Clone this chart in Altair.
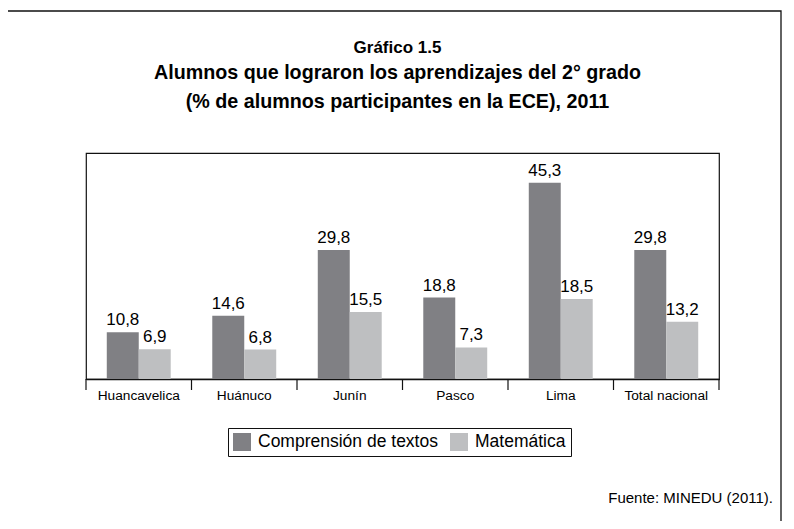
import altair as alt
import pandas as pd

categories = ["Huancavelica", "Huánuco", "Junín", "Pasco", "Lima", "Total nacional"]
series = ["Comprensión de textos", "Matemática"]
comprension = [10.8, 14.6, 29.8, 18.8, 45.3, 29.8]
matematica = [6.9, 6.8, 15.5, 7.3, 18.5, 13.2]
colors = ["#808084", "#bebfc1"]

rows = []
for i, c in enumerate(categories):
    for s, vals in zip(series, [comprension, matematica]):
        v = vals[i]
        rows.append({"region": c, "serie": s, "valor": v,
                     "etiqueta": f"{v:.1f}".replace(".", ",")})
df = pd.DataFrame(rows)

FONT = "Liberation Sans"
W, H = 633, 226

x_enc = alt.X("region:N", sort=categories,
              scale=alt.Scale(paddingInner=0, paddingOuter=0),
              axis=alt.Axis(title=None, labelAngle=0, ticks=False, tickSize=0,
                            labelPadding=9, labelFontSize=13.7, labelColor="black",
                            labelFont=FONT, domainColor="#111111", domainWidth=1.3))
xoff = alt.XOffset("serie:N", sort=series,
                   scale=alt.Scale(paddingInner=0, paddingOuter=0.65))
y_enc = alt.Y("valor:Q", scale=alt.Scale(domain=[0, 52.2], nice=False), axis=None)

bars = alt.Chart(df).mark_bar().encode(
    x=x_enc, xOffset=xoff, y=y_enc,
    color=alt.Color("serie:N", sort=series,
                    scale=alt.Scale(domain=series, range=colors),
                    legend=alt.Legend(orient="none", legendX=142, legendY=275,
                                      direction="horizontal", title=None,
                                      symbolType="square", symbolSize=324,
                                      symbolStrokeWidth=0, labelFontSize=17.5,
                                      labelFont=FONT, labelColor="black",
                                      labelLimit=400,
                                      strokeColor="#111111", fillColor="white",
                                      padding=5, columnPadding=12, labelOffset=7)),
)

labels = alt.Chart(df).mark_text(baseline="bottom", dy=-3, fontSize=17, font=FONT,
                                 color="black").encode(
    x=alt.X("region:N", sort=categories), xOffset=xoff, y=y_enc,
    text="etiqueta:N",
)

sep_df = pd.DataFrame({"region": categories})
seps = alt.Chart(sep_df).mark_rule(color="#111111", strokeWidth=1.2).encode(
    x=alt.X("region:N", sort=categories, bandPosition=0),
    y=alt.value(H), y2=alt.value(H + 11),
)
one = pd.DataFrame({"k": [0]})
sep_end = alt.Chart(one).mark_rule(color="#111111", strokeWidth=1.2).encode(
    x=alt.value(W), y=alt.value(H), y2=alt.value(H + 11),
)

border = alt.Chart(one).mark_rect(fill=None, stroke="#111111", strokeWidth=1.3).encode(
    x=alt.value(-79), x2=alt.value(695), y=alt.value(-142), y2=alt.value(420),
)

fuente = alt.Chart(one).mark_text(align="right", baseline="middle", fontSize=15,
                                  font=FONT, color="black").encode(
    x=alt.value(687), y=alt.value(345), text=alt.value("Fuente: MINEDU (2011).")
)

chart = alt.layer(border, bars, labels, seps, sep_end, fuente).properties(
    width=W, height=H,
    autosize=alt.AutoSizeParams(type="none"),
    padding={"left": 78, "top": 145, "right": 67, "bottom": 142},
    title=alt.TitleParams(
        text="Gráfico 1.5",
        subtitle=["Alumnos que lograron los aprendizajes del 2° grado",
                  "(% de alumnos participantes en la ECE), 2011"],
        fontSize=17, fontWeight="bold", font=FONT, color="black",
        subtitleFontSize=19.7, subtitleFontWeight="bold", subtitleFont=FONT,
        subtitleColor="black", subtitleLineHeight=29, subtitlePadding=6,
        anchor="middle", frame="group", offset=-102, dx=-5,
    ),
).configure_view(stroke="#111111", strokeWidth=1.2)

chart.save("out.html", embed_options={"renderer": "svg", "actions": False})
